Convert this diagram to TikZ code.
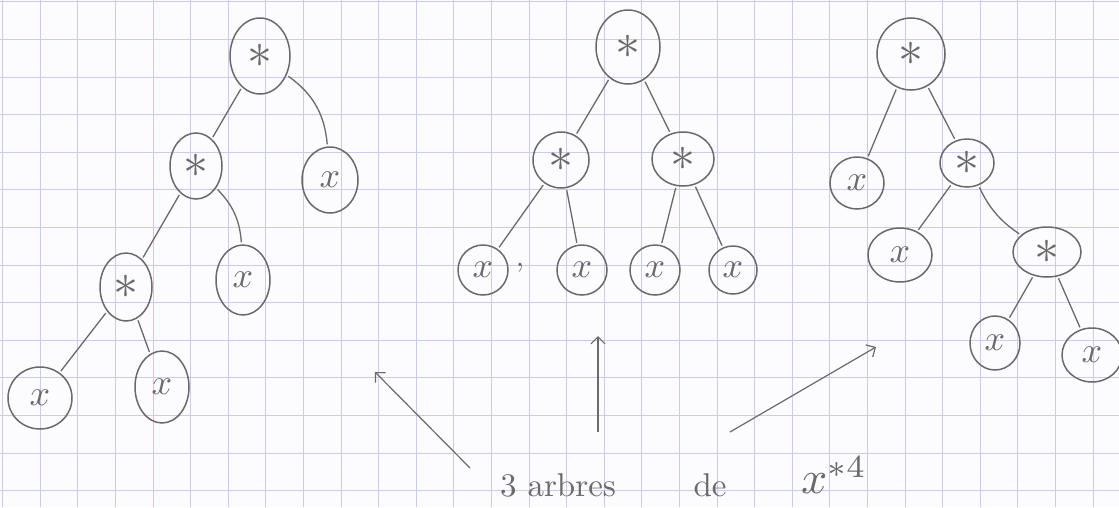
\documentclass[tikz,border=0pt]{standalone}
\usepackage{graphicx}
\usetikzlibrary{shapes.geometric,arrows.meta}
\definecolor{pen}{HTML}{6A6A6A}
\definecolor{gridc}{HTML}{C9CCEC}
\definecolor{marginc}{HTML}{E8BFCD}
\definecolor{paper}{HTML}{FCFCFE}
\newcommand{\opstar}{\scalebox{5}{$\ast$}}
\newcommand{\leafx}{\scalebox{3.6}{$x$}}
\begin{document}
\begin{tikzpicture}[x=1pt,y=-1pt,
  pencil/.style={draw=pen, line width=1.5pt},
  nd/.style 2 args={ellipse, pencil, minimum width=#1pt, minimum height=#2pt, inner sep=0pt, text=pen},
  edge/.style={pencil, line width=1.3pt, shorten <=2pt, shorten >=2pt},
  arr/.style={draw=pen, line width=1.2pt, -{Straight Barb[length=7pt,width=14pt]}},
  lbl/.style={text=pen, inner sep=0pt}]
% paper
\fill[paper] (0,0) rectangle (1119,507);
\useasboundingbox (0,0) rectangle (1119,507);
\foreach \i in {0,...,29} \draw[gridc, line width=1pt] ({2.6+37.6*\i},0) -- ({2.6+37.6*\i},507);
\foreach \j in {0,...,13} \draw[gridc, line width=1pt] (0,{1.8+37.6*\j}) -- (1119,{1.8+37.6*\j});
\draw[marginc, line width=1pt] (153,0) -- (153,507);

% tree 1
\node[nd={60}{76}] (t1r) at (260,56) {\opstar};
\node[nd={52}{66}] (t1a) at (196,166) {\opstar};
\node[nd={56}{66}] (t1x) at (330,180) {\leafx};
\node[nd={52}{68}] (t1b) at (126,287) {\opstar};
\node[nd={54}{70}] (t1y) at (243,280) {\leafx};
\node[nd={64}{62}] (t1l) at (40,398) {\leafx};
\node[nd={54}{72}] (t1m) at (162,387) {\leafx};
\draw[edge] (t1r) -- (t1a);
\draw[edge] (t1r) to[bend left=25] (t1x);
\draw[edge] (t1a) -- (t1b);
\draw[edge] (t1a) to[bend left=20] (t1y);
\draw[edge] (t1b) -- (t1l);
\draw[edge] (t1b) -- (t1m);

% tree 2
\node[nd={64}{74}] (t2r) at (628,47) {\opstar};
\node[nd={56}{56}] (t2a) at (561,160) {\opstar};
\node[nd={62}{54}] (t2b) at (683,159) {\opstar};
\node[nd={50}{50}] (t2l1) at (483,270) {\leafx};
\node[nd={50}{50}] (t2l2) at (582,270) {\leafx};
\node[nd={50}{50}] (t2l3) at (655,270) {\leafx};
\node[nd={48}{48}] (t2l4) at (733,270) {\leafx};
\node[lbl] (t2c) at (520,268) {\scalebox{3}{,}};
\draw[edge] (t2r) -- (t2a);
\draw[edge] (t2r) -- (t2b);
\draw[edge] (t2a) -- (t2l1);
\draw[edge] (t2a) -- (t2l2);
\draw[edge] (t2b) -- (t2l3);
\draw[edge] (t2b) -- (t2l4);

% tree 3
\node[nd={68}{72}] (t3r) at (911,54) {\opstar};
\node[nd={54}{52}] (t3x) at (857,183) {\leafx};
\node[nd={54}{48}] (t3a) at (967,163) {\opstar};
\node[nd={64}{54}] (t3y) at (900,255) {\leafx};
\node[nd={68}{50}] (t3b) at (1047,252) {\opstar};
\node[nd={50}{54}] (t3l) at (995,343) {\leafx};
\node[nd={60}{54}] (t3m) at (1092,355) {\leafx};
\draw[edge] (t3r) -- (t3x);
\draw[edge] (t3r) -- (t3a);
\draw[edge] (t3a) -- (t3y);
\draw[edge] (t3a) to[bend right=15] (t3b);
\draw[edge] (t3b) -- (t3l);
\draw[edge] (t3b) -- (t3m);

% caption and arrows
\node[lbl] (c1) at (558,485) {\scalebox{3.3}{3 arbres}};
\node[lbl] (c2) at (710,485) {\scalebox{3.3}{de}};
\node[lbl] (c3) at (834,475) {\scalebox{4.6}{$x^{*4}$}};
\coordinate (a1s) at (470,468);
\coordinate (a1e) at (375,372);
\coordinate (a2s) at (598,432);
\coordinate (a2e) at (598,336);
\coordinate (a3s) at (730,432);
\coordinate (a3e) at (876,347);
\draw[arr] (a1s) -- (a1e);
\draw[arr] (a2s) -- (a2e);
\draw[arr] (a3s) -- (a3e);
\end{tikzpicture}
\end{document}
